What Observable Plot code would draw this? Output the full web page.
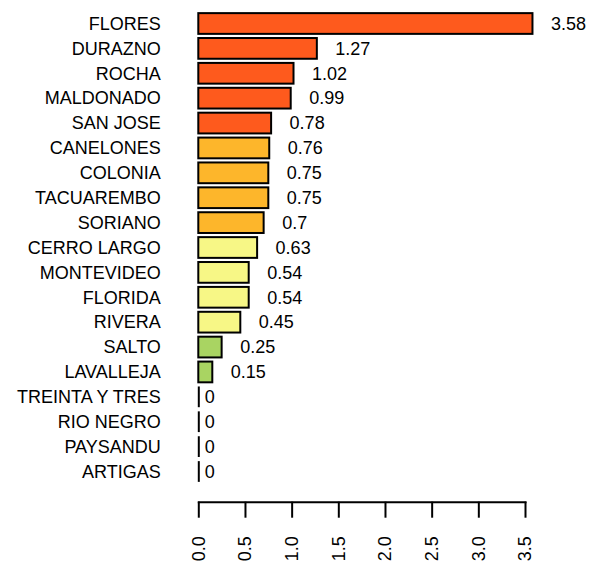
<!DOCTYPE html>
<html><head><meta charset="utf-8">
<script src="https://cdn.jsdelivr.net/npm/d3@7"></script>
<script src="https://cdn.jsdelivr.net/npm/@observablehq/plot@0.6"></script>
<style>body{margin:0;background:#fff}</style>
</head><body><div id="chart"></div>
<script>
const departments = ["FLORES","DURAZNO","ROCHA","MALDONADO","SAN JOSE","CANELONES","COLONIA","TACUAREMBO","SORIANO","CERRO LARGO","MONTEVIDEO","FLORIDA","RIVERA","SALTO","LAVALLEJA","TREINTA Y TRES","RIO NEGRO","PAYSANDU","ARTIGAS"];
const values = [3.58,1.27,1.02,0.99,0.78,0.76,0.75,0.75,0.7,0.63,0.54,0.54,0.45,0.25,0.15,0,0,0,0];
const groups = ["high","high","high","high","high","mid","mid","mid","mid","low","low","low","low","vlow","vlow","zero","zero","zero","zero"];
const groupNames = ["high","mid","low","vlow","zero"];
const groupColors = ["#FE5A1D","#FDB62B","#F7F786","#A9D462","#FFFFFF"];
const labels = ["3.58","1.27","1.02","0.99","0.78","0.76","0.75","0.75","0.7","0.63","0.54","0.54","0.45","0.25","0.15","0","0","0","0"];
const xTicks = [0,0.5,1,1.5,2,2.5,3,3.5];

const data = departments.map((d,i)=>({name:d, value:values[i], group:groups[i], label:labels[i]}));

const W = 590, H = 563;
const chart = Plot.plot({
  width: W, height: H,
  marginLeft: 198.3, marginRight: 65, marginTop: 0, marginBottom: 61.3,
  style: {fontFamily: "'Liberation Sans', Arial, Helvetica, sans-serif", fontSize: "18px", background: "#fff"},
  x: {domain: [0, 3.5]},
  y: {domain: departments, range: [13.13, 481.87], paddingInner: 1/6, paddingOuter: 0, round: false},
  color: {domain: groupNames, range: groupColors},
  marks: [
    Plot.barX(data.filter(d => d.value > 0), {x: "value", y: "name", fill: "group", stroke: "#000", strokeWidth: 2}),
    Plot.tickX(data.filter(d => d.value === 0), {x: "value", y: "name", stroke: "#000", strokeWidth: 2}),
    Plot.text(data.filter(d => d.value > 0), {x: "value", y: "name", text: "label", dx: 18, textAnchor: "start", fontSize: 18, fill: "#000"}),
    Plot.text(data.filter(d => d.value === 0), {x: "value", y: "name", text: "label", dx: 6, textAnchor: "start", fontSize: 18, fill: "#000"}),
    Plot.frame({anchor: "bottom", stroke: "#000", strokeWidth: 2}),
    Plot.axisX({ticks: xTicks, tickSize: 16, tickPadding: 18, tickRotate: -90, tickFormat: d3.format(".1f"), fontSize: 18, strokeWidth: 2, label: null, color: "#000"}),
    Plot.axisY({tickSize: 0, tickPadding: 38, fontSize: 18, label: null, color: "#000"})
  ]
});
document.getElementById("chart").appendChild(chart);
</script>
</body></html>
